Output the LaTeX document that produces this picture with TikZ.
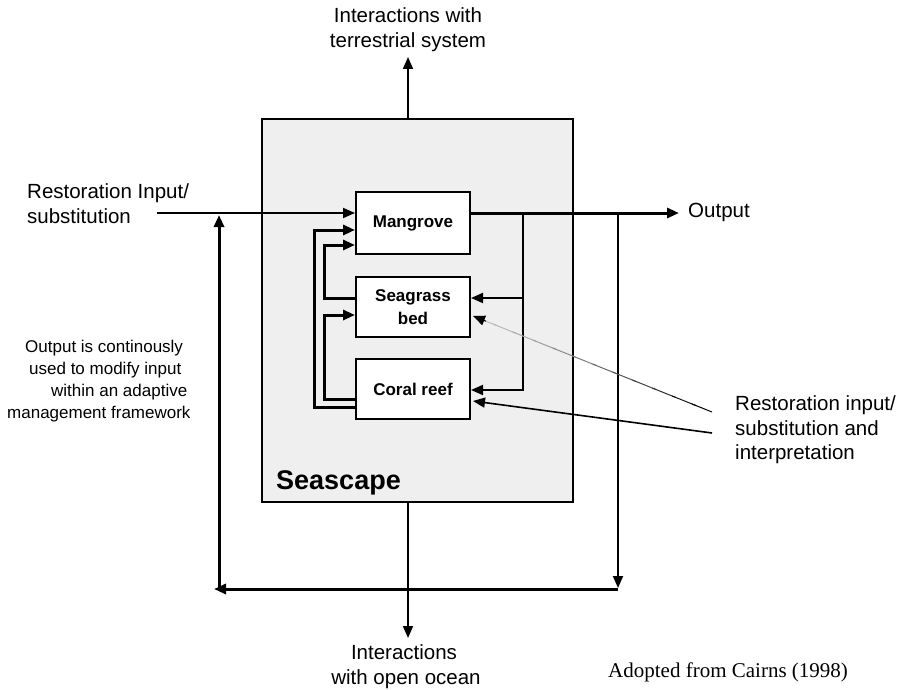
\documentclass[tikz,border=0pt]{standalone}
\usepackage{fontspec}
\setmainfont{Liberation Sans}
\newfontfamily\serifface{Liberation Serif}
\usetikzlibrary{arrows.meta,calc}
\definecolor{seafill}{HTML}{EFEFEF}

\begin{document}
\begin{tikzpicture}[x=1bp,y=-1bp,
  tip/.style={-{Triangle[length=12bp,width=10bp]}},
  lbl/.style={inner sep=0pt, font=\fontsize{20.5bp}{25bp}\selectfont},
  note/.style={inner sep=0pt, anchor=base west, font=\fontsize{17bp}{22bp}\selectfont},
  unit/.style={draw, line width=2bp, fill=white, minimum width=114bp,
    minimum height=62bp, inner sep=0pt, align=center,
    font=\bfseries\fontsize{17bp}{23bp}\selectfont},
  thinline/.style={line width=1.8bp},
  thickline/.style={line width=3bp},
]
\useasboundingbox (0,0) rectangle (903,690);

% seascape frame
\node[draw, line width=2bp, fill=seafill, minimum width=311bp,
  minimum height=383bp, inner sep=0pt] (sea) at (417.5,310.5) {};
\node[anchor=base west, inner sep=0pt,
  font=\bfseries\fontsize{27bp}{30bp}\selectfont] (sealbl) at (276,489) {Seascape};

% habitat units
\node[unit] (mang) at (413,223) {Mangrove};
\node[unit, minimum height=60bp] (seag) at (413,307) {Seagrass\\bed};
\node[unit, minimum height=60bp] (coral) at (413,389) {Coral reef};

% free ends of connectors
\coordinate (inS) at (157,213);
\coordinate (outE) at (679,213);
\coordinate (tap) at (523,213);
\coordinate (drop) at (618,213);
\coordinate (busR) at (618,589);
\coordinate (busL) at (214,589);
\coordinate (riseB) at (219,589);
\coordinate (riseT) at (219,215);
\coordinate (terr) at (408,57);
\coordinate (ocean) at (408,638);
\coordinate (rA) at (712,412);
\coordinate (tA) at (473,316);
\coordinate (rB) at (712,433);
\coordinate (tB) at (473,401);

% interactions with surroundings
\draw[thinline, tip] (sea.north -| terr) -- (terr);
\draw[thinline, tip] (sea.south -| ocean) -- (ocean);

% input and output
\draw[thinline, tip] (inS) -- (mang.west |- inS);
\draw[thickline, tip] (mang.east |- outE) -- (outE);

% output fed back to the units
\draw[thinline, tip] (tap) |- (coral.east |- 0,390);
\draw[thinline, tip] (tap |- 0,298) -- (seag.east |- 0,298);

% links between the units
\draw[thickline, tip] (seag.west |- 0,298) -| (324,245) -- (mang.west |- 0,245);
\draw[thickline, tip] (coral.west |- 0,399) -| (324,315) -- (seag.west |- 0,315);
\draw[thickline, tip] (coral.west |- 0,407) -| (314,230) -- (mang.west |- 0,230);

% adaptive management loop
\draw[thinline, tip] (drop) -- ([yshift=1bp]busR);
\draw[thickline, tip] (busR) -- (busL);
\draw[thickline, tip] (riseB) -- (riseT);

% restoration input lines
\draw[line width=1.6bp, tip] (rB) -- (tB);
\foreach \k in {0,...,11}{
  \pgfmathsetmacro{\a}{\k/12}
  \pgfmathsetmacro{\b}{min((\k+1.2)/12,1)}
  \pgfmathtruncatemacro{\p}{25+75*(\k/11)^1.3}
  \draw[line width=1bp, black!\p] ($(tA)!\a!(rA)$) -- ($(tA)!\b!(rA)$);
}
\draw[line width=1bp, tip] ($(tA)!14bp!(rA)$) -- (tA);

% labels
\node[lbl, anchor=base] (t1) at (408,23) {Interactions with};
\node[lbl, anchor=base] (t2) at (408,48) {terrestrial system};
\node[lbl, anchor=base west] (in1) at (27,198) {Restoration Input/};
\node[lbl, anchor=base west] (in2) at (27,223) {substitution};
\node[lbl, anchor=base west] (outlbl) at (688,217) {Output};
\node[lbl, anchor=base west] (r1) at (735,410) {Restoration input/};
\node[lbl, anchor=base west] (r2) at (735,435) {substitution and};
\node[lbl, anchor=base west] (r3) at (735,459) {interpretation};
\node[lbl, anchor=base] (b1) at (404,659) {Interactions};
\node[lbl, anchor=base] (b2) at (406,684) {with open ocean};

\node[note] (n1) at (25,352) {Output is continously};
\node[note] (n2) at (29,374) {used to modify input};
\node[note] (n3) at (51,396) {within an adaptive};
\node[note] (n4) at (7,418) {management framework};

\node[anchor=base west, inner sep=0pt,
  font=\serifface\fontsize{21bp}{24bp}\selectfont] (src) at (608,677) {Adopted from Cairns (1998)};
\end{tikzpicture}
\end{document}
